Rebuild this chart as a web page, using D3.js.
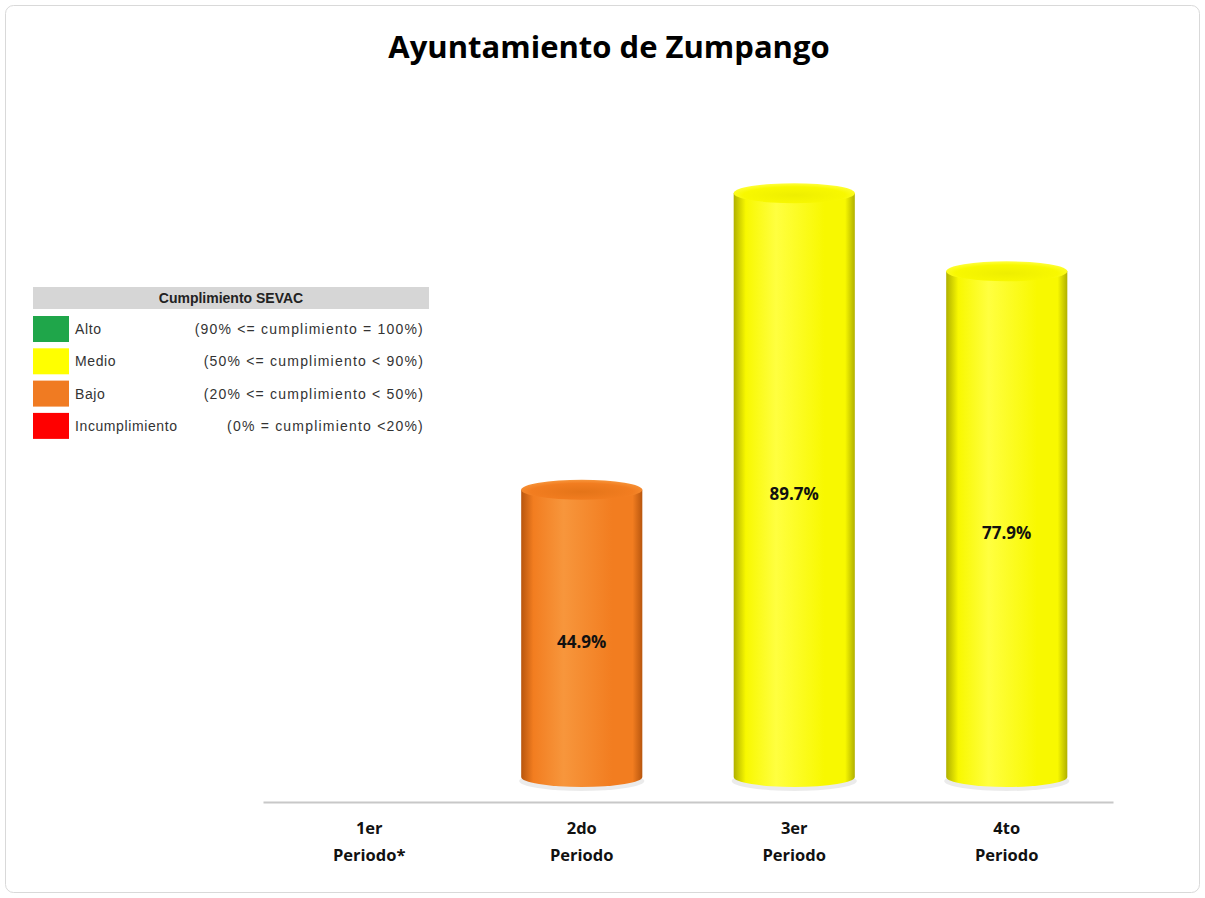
<!DOCTYPE html>
<html>
<head>
<meta charset="utf-8">
<title>Ayuntamiento de Zumpango</title>
<script src="https://cdn.jsdelivr.net/npm/d3@7"></script>
<style>
  body { margin: 0; background: #fff; }
</style>
</head>
<body>
<script>
// datos
var categorias = ["1er\nPeriodo*", "2do\nPeriodo", "3er\nPeriodo", "4to\nPeriodo"];
var valores = [null, 44.9, 89.7, 77.9];
var etiquetas = ["", "44.9%", "89.7%", "77.9%"];

var leyendaNombres = ["Alto", "Medio", "Bajo", "Incumplimiento"];
var leyendaRangos = ["(90% <= cumplimiento = 100%)", "(50% <= cumplimiento < 90%)",
                     "(20% <= cumplimiento < 50%)", "(0% = cumplimiento <20%)"];
var leyendaColores = ["#1fa64a", "#ffff00", "#f07b22", "#ff0000"];

function colorDe(v) {
  if (v >= 90) return "alto";
  if (v >= 50) return "medio";
  if (v >= 20) return "bajo";
  return "inc";
}

var W = 1205, H = 898;
var svg = d3.select("body").append("svg").attr("width", W).attr("height", H);

// marco
svg.append("rect").attr("x", 5.5).attr("y", 5.5).attr("width", W - 11).attr("height", H - 11)
  .attr("rx", 8).attr("fill", "#fff").attr("stroke", "#d9d9d9");

// gradientes de los cilindros
var defs = svg.append("defs");
var tonos = {
  bajo:  { dark: "#b8560e", mid: "#f27d20", light: "#f7963c", top: "#e47418" },
  medio: { dark: "#b0b000", mid: "#f8f800", light: "#ffff40", top: "#eeee00" },
  alto:  { dark: "#0f6e30", mid: "#1fa64a", light: "#5cc47c", top: "#1b9441" },
  inc:   { dark: "#a00000", mid: "#ff0000", light: "#ff5555", top: "#e80000" }
};
Object.keys(tonos).forEach(function(k) {
  var t = tonos[k];
  var g = defs.append("linearGradient").attr("id", "g-" + k)
    .attr("x1", "0%").attr("x2", "100%").attr("y1", "0%").attr("y2", "0%");
  g.append("stop").attr("offset", "0%").attr("stop-color", t.dark);
  g.append("stop").attr("offset", "10%").attr("stop-color", t.mid);
  g.append("stop").attr("offset", "35%").attr("stop-color", t.light);
  g.append("stop").attr("offset", "75%").attr("stop-color", t.mid);
  g.append("stop").attr("offset", "92%").attr("stop-color", t.mid);
  g.append("stop").attr("offset", "100%").attr("stop-color", t.dark);
  var r = defs.append("radialGradient").attr("id", "t-" + k)
    .attr("cx", "50%").attr("cy", "60%").attr("r", "60%");
  r.append("stop").attr("offset", "0%").attr("stop-color", t.top);
  r.append("stop").attr("offset", "70%").attr("stop-color", t.mid);
  r.append("stop").attr("offset", "100%").attr("stop-color", t.light);
});

// escalas
var x = d3.scaleBand().domain(categorias).range([263, 1113]).paddingInner(0.43).paddingOuter(0.215);
var y = d3.scaleLinear().domain([0, 100]).range([777, 115]);
var ry = 10;

// titulo
svg.append("text").attr("x", 609).attr("y", 58).attr("text-anchor", "middle")
  .attr("font-family", "Open Sans, Liberation Sans, sans-serif").attr("font-weight", "bold")
  .attr("font-size", 31).attr("fill", "#000").text("Ayuntamiento de Zumpango");

// eje x
var eje = svg.append("g").attr("transform", "translate(0,802)")
  .call(d3.axisBottom(x).tickSize(0).tickFormat(""));
eje.select(".domain").attr("stroke", "#c8c8c8").attr("stroke-width", 2);

var labels = svg.append("g").selectAll("text").data(categorias).join("text")
  .attr("x", function(d) { return x(d) + x.bandwidth() / 2; })
  .attr("y", 834).attr("text-anchor", "middle")
  .attr("font-family", "Open Sans, Liberation Sans, sans-serif").attr("font-weight", "bold")
  .attr("font-size", 16.5).attr("fill", "#111");
labels.each(function(d) {
  var t = d3.select(this);
  d.split("\n").forEach(function(l, i) {
    t.append("tspan").attr("x", x(d) + x.bandwidth() / 2).attr("dy", i ? 27 : 0).text(l);
  });
});

// cilindros
var datos = categorias.map(function(c, i) { return { c: c, v: valores[i], lab: etiquetas[i] }; })
  .filter(function(d) { return d.v != null; });

var bars = svg.append("g").selectAll("g").data(datos).join("g");
bars.each(function(d) {
  var g = d3.select(this);
  var x0 = x(d.c), w = x.bandwidth(), cx = x0 + w / 2;
  var yt = y(d.v) + ry, yb = y(0);
  var k = colorDe(d.v);
  // sombra en la base
  g.append("ellipse").attr("cx", cx).attr("cy", yb + 4).attr("rx", w / 2 + 2).attr("ry", ry)
    .attr("fill", "#000").attr("opacity", 0.08);
  // cuerpo
  g.append("path")
    .attr("d", "M" + x0 + "," + yt + " L" + x0 + "," + yb +
      " A" + (w / 2) + "," + ry + " 0 0 0 " + (x0 + w) + "," + yb +
      " L" + (x0 + w) + "," + yt + " Z")
    .attr("fill", "url(#g-" + k + ")");
  // tapa
  g.append("ellipse").attr("cx", cx).attr("cy", yt).attr("rx", w / 2).attr("ry", ry)
    .attr("fill", "url(#t-" + k + ")");
  g.append("text").attr("x", cx).attr("y", y(d.v / 2) + 20).attr("text-anchor", "middle")
    .attr("font-family", "Open Sans, Liberation Sans, sans-serif").attr("font-weight", "bold")
    .attr("font-size", 17).attr("fill", "#111").text(d.lab);
});

// leyenda
var ley = svg.append("g");
ley.append("rect").attr("x", 33).attr("y", 287).attr("width", 396).attr("height", 22).attr("fill", "#d6d6d6");
ley.append("text").attr("x", 231).attr("y", 303).attr("text-anchor", "middle")
  .attr("font-family", "Liberation Sans, Arial, sans-serif").attr("font-weight", "bold")
  .attr("font-size", 14).attr("fill", "#222").text("Cumplimiento SEVAC");
var filas = ley.selectAll("g.fila").data(leyendaNombres).join("g").attr("class", "fila")
  .attr("transform", function(d, i) { return "translate(0," + (316 + i * 32.3) + ")"; });
filas.append("rect").attr("x", 33).attr("y", 0).attr("width", 36).attr("height", 26)
  .attr("fill", function(d, i) { return leyendaColores[i]; });
filas.append("text").attr("x", 75).attr("y", 18)
  .attr("font-family", "Liberation Sans, Arial, sans-serif").attr("font-size", 14)
  .attr("letter-spacing", 0.6).attr("fill", "#333")
  .text(function(d) { return d; });
filas.append("text").attr("x", 424).attr("y", 18).attr("text-anchor", "end")
  .attr("font-family", "Liberation Sans, Arial, sans-serif").attr("font-size", 14)
  .attr("letter-spacing", 1.2).attr("fill", "#333")
  .text(function(d, i) { return leyendaRangos[i]; });
</script>
</body>
</html>
